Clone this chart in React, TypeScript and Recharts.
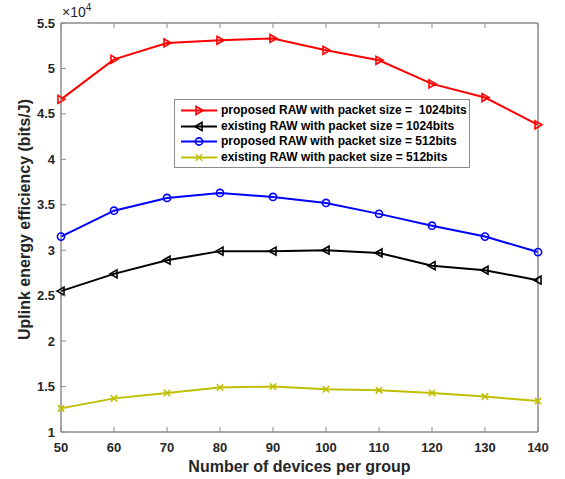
import React from 'react';
import { LineChart, Line, XAxis, YAxis, Legend, ReferenceArea } from 'recharts';

const devices = [50, 60, 70, 80, 90, 100, 110, 120, 130, 140];
const proposed1024 = [46600, 51000, 52800, 53100, 53300, 52000, 50900, 48300, 46800, 43800];
const existing1024 = [25500, 27400, 28900, 29900, 29900, 30000, 29700, 28300, 27800, 26700];
const proposed512 = [31500, 34350, 35750, 36300, 35860, 35200, 34000, 32700, 31500, 29800];
const existing512 = [12600, 13700, 14300, 14900, 15000, 14700, 14600, 14300, 13900, 13400];

const xTicks = [50, 60, 70, 80, 90, 100, 110, 120, 130, 140];
const yTicks = [10000, 15000, 20000, 25000, 30000, 35000, 40000, 45000, 50000, 55000];
const yTickLabels = ['1', '1.5', '2', '2.5', '3', '3.5', '4', '4.5', '5', '5.5'];

const seriesNames = [
  'proposed RAW with packet size =  1024bits',
  'existing RAW with packet size = 1024bits',
  'proposed RAW with packet size = 512bits',
  'existing RAW with packet size = 512bits',
];
const seriesKeys = ['p1024', 'e1024', 'p512', 'e512'];
const seriesColors = ['#ff0000', '#000000', '#0000ff', '#bfbf00'];
const seriesMarkers = ['triRight', 'triLeft', 'circle', 'cross'];
const seriesValues = [proposed1024, existing1024, proposed512, existing512];

const data = devices.map((n, i) => {
  const row: any = { n };
  seriesKeys.forEach((k, j) => {
    row[k] = seriesValues[j][i];
  });
  return row;
});

const FONT = '"Liberation Sans", Arial, Helvetica, sans-serif';
const AXIS = '#8c8c8c';
const TEXT = '#262626';
const TICK = 5;

function Marker({ cx, cy, shape, color }: { cx: number; cy: number; shape: string; color: string }) {
  if (cx == null || cy == null) return null;
  const sw = 1.6;
  if (shape === 'triRight') {
    return (
      <polygon
        points={`${cx + 4},${cy} ${cx - 3},${cy - 4} ${cx - 3},${cy + 4}`}
        fill="none"
        stroke={color}
        strokeWidth={sw}
      />
    );
  }
  if (shape === 'triLeft') {
    return (
      <polygon
        points={`${cx - 4},${cy} ${cx + 3},${cy - 4} ${cx + 3},${cy + 4}`}
        fill="none"
        stroke={color}
        strokeWidth={sw}
      />
    );
  }
  if (shape === 'circle') {
    return <circle cx={cx} cy={cy} r={3.6} fill="none" stroke={color} strokeWidth={sw} />;
  }
  return (
    <g stroke={color} strokeWidth={sw}>
      <line x1={cx - 3.2} y1={cy - 3.2} x2={cx + 3.2} y2={cy + 3.2} />
      <line x1={cx - 3.2} y1={cy + 3.2} x2={cx + 3.2} y2={cy - 3.2} />
    </g>
  );
}

const BottomTick = (props: any) => {
  const { x, y, payload } = props;
  return (
    <g>
      <line x1={x} y1={y} x2={x} y2={y - TICK} stroke={AXIS} strokeWidth={1} />
      <text x={x} y={y + 19.5} textAnchor="middle" fontFamily={FONT} fontWeight="bold" fontSize={13} fill={TEXT}>
        {payload.value}
      </text>
    </g>
  );
};

const TopTick = (props: any) => {
  const { x, y } = props;
  return <line x1={x} y1={y} x2={x} y2={y + TICK} stroke={AXIS} strokeWidth={1} />;
};

const LeftTick = (props: any) => {
  const { x, y, payload } = props;
  const idx = yTicks.indexOf(payload.value);
  const label = idx >= 0 ? yTickLabels[idx] : String(payload.value);
  return (
    <g>
      <line x1={x} y1={y} x2={x + TICK} y2={y} stroke={AXIS} strokeWidth={1} />
      <text x={x - 6} y={y + 4.6} textAnchor="end" fontFamily={FONT} fontWeight="bold" fontSize={13} fill={TEXT}>
        {label}
      </text>
    </g>
  );
};

const RightTick = (props: any) => {
  const { x, y } = props;
  return <line x1={x} y1={y} x2={x - TICK} y2={y} stroke={AXIS} strokeWidth={1} />;
};

const renderLegend = () => (
  <div
    style={{
      position: 'relative',
      width: 296,
      height: 69,
      border: '1px solid #8c8c8c',
      background: '#fff',
      boxSizing: 'border-box',
      fontFamily: FONT,
      fontWeight: 'bold',
      fontSize: 12,
      color: '#000',
    }}
  >
    {seriesKeys.map((k, i) => (
      <div
        key={k}
        style={{
          position: 'absolute',
          left: 5,
          top: 3 + i * 15.6,
          height: 15,
          display: 'flex',
          alignItems: 'center',
          whiteSpace: 'pre',
        }}
      >
        <svg width={38} height={15} style={{ display: 'block' }}>
          <line x1={1} y1={7.5} x2={37} y2={7.5} stroke={seriesColors[i]} strokeWidth={2} />
          <Marker cx={19} cy={7.5} shape={seriesMarkers[i]} color={seriesColors[i]} />
        </svg>
        <span style={{ marginLeft: 3, lineHeight: '15px' }}>{seriesNames[i]}</span>
      </div>
    ))}
  </div>
);

export default function App() {
  return (
    <div style={{ position: 'absolute', left: 0, top: 0, width: 565, height: 479, background: '#fff' }}>
      <LineChart width={565} height={479} data={data} margin={{ top: 22, right: 26, bottom: 0, left: 0 }}>
        <XAxis
          xAxisId="b"
          dataKey="n"
          type="number"
          domain={[50, 140]}
          ticks={xTicks}
          height={47}
          tickSize={0}
          tickMargin={0}
          axisLine={{ stroke: AXIS, strokeWidth: 1 }}
          tickLine={false}
          tick={<BottomTick />}
          interval={0}
          label={{
            value: 'Number of devices per group',
            position: 'insideBottom',
            offset: 7,
            style: { fontFamily: FONT, fontWeight: 'bold', fontSize: 16, fill: TEXT },
          }}
        />
        <XAxis
          xAxisId="t"
          dataKey="n"
          type="number"
          orientation="top"
          domain={[50, 140]}
          ticks={xTicks}
          height={1}
          tickSize={0}
          tickMargin={0}
          axisLine={{ stroke: AXIS, strokeWidth: 1 }}
          tickLine={false}
          tick={<TopTick />}
          interval={0}
        />
        <YAxis
          yAxisId="l"
          type="number"
          domain={[10000, 55000]}
          ticks={yTicks}
          width={61}
          tickSize={0}
          tickMargin={0}
          axisLine={{ stroke: AXIS, strokeWidth: 1 }}
          tickLine={false}
          tick={<LeftTick />}
          interval={0}
          label={(p: any) => {
            const vb = p.viewBox || {};
            const cx = 30;
            const cy = (vb.y ?? 23) + (vb.height ?? 409) / 2 - 8;
            return (
              <text
                x={cx}
                y={cy}
                transform={`rotate(-90, ${cx}, ${cy})`}
                textAnchor="middle"
                fontFamily={FONT}
                fontWeight="bold"
                fontSize={16}
                fill={TEXT}
              >
                Uplink energy efficiency (bits/J)
              </text>
            );
          }}
        />
        <YAxis
          yAxisId="r"
          type="number"
          orientation="right"
          domain={[10000, 55000]}
          ticks={yTicks}
          width={1}
          tickSize={0}
          tickMargin={0}
          axisLine={{ stroke: AXIS, strokeWidth: 1 }}
          tickLine={false}
          tick={<RightTick />}
          interval={0}
        />
        <ReferenceArea
          xAxisId="b"
          yAxisId="l"
          x1={50}
          x2={140}
          y1={10000}
          y2={55000}
          fill="none"
          fillOpacity={0}
          stroke={AXIS}
          strokeWidth={1}
          ifOverflow="visible"
        />
        <Legend
          layout="vertical"
          verticalAlign="middle"
          align="center"
          content={renderLegend}
          wrapperStyle={{ left: 174, top: 99, width: 296, height: 69 }}
        />
        {seriesKeys.map((k, i) => (
          <Line
            key={k}
            xAxisId="b"
            yAxisId="l"
            type="linear"
            dataKey={k}
            name={seriesNames[i]}
            stroke={seriesColors[i]}
            strokeWidth={2}
            isAnimationActive={false}
            dot={(p: any) => (
              <Marker key={`${k}-${p.index}`} cx={p.cx} cy={p.cy} shape={seriesMarkers[i]} color={seriesColors[i]} />
            )}
            activeDot={false}
          />
        ))}
      </LineChart>
      <div
        style={{
          position: 'absolute',
          left: 62,
          top: 4,
          fontFamily: FONT,
          fontSize: 14,
          color: TEXT,
          lineHeight: '16px',
          whiteSpace: 'pre',
        }}
      >
        ×10<span style={{ fontSize: 10, position: 'relative', top: -6 }}>4</span>
      </div>
    </div>
  );
}
